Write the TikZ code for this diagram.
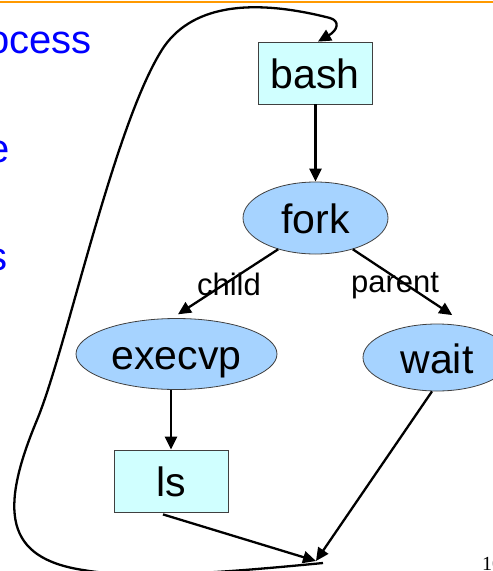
\documentclass[tikz,border=0pt]{standalone}
\usepackage{fontspec}
\setmainfont{Liberation Sans}
\newfontfamily\serifnum{Liberation Serif}
\usetikzlibrary{shapes.geometric,arrows.meta}
\definecolor{ellfill}{RGB}{166,211,255}
\definecolor{boxfill}{RGB}{208,255,255}
\definecolor{topline}{RGB}{255,153,0}
\begin{document}
\begin{tikzpicture}[x=1pt,y=-1pt,
  proc/.style={ellipse, draw=black!75, line width=0.8pt, fill=ellfill, inner sep=0pt,
    text height=31pt, text depth=0pt, font=\fontsize{41}{49}\selectfont},
  prog/.style={rectangle, draw=black!75, line width=0.8pt, fill=boxfill, inner sep=0pt,
    minimum width=114pt, minimum height=62pt, text height=31pt, text depth=0pt,
    font=\fontsize{41}{49}\selectfont},
  arr/.style={line width=2.3pt, -{Triangle[length=13pt,width=12pt]}},
  lbl/.style={font=\fontsize{31}{37}\selectfont, anchor=base, inner sep=0pt},
  side/.style={text=blue, font=\fontsize{40}{48}\selectfont, anchor=base east, inner sep=0pt}]
\useasboundingbox (0,0) rectangle (493,571);
\draw[topline, line width=2.5pt] (0,2) -- (493,2);

% side text fragments
\node[side] (t1) at (92,53) {ocess};
\node[side] (t2) at (10,162) {e};
\node[side] (t3) at (8,270) {s};
\node[font=\serifnum\fontsize{20}{24}\selectfont, anchor=base west, inner sep=0pt] (pg) at (482,570.5) {10};

% nodes
\node[prog] (bash) at (315,73) {bash};
\node[proc, minimum width=145pt, minimum height=72pt] (fork) at (315.5,218) {fork};
\node[proc, minimum width=201pt, minimum height=71pt] (execvp) at (176.5,354) {execvp};
\node[proc, minimum width=148pt, minimum height=67pt] (wait) at (437,357.5) {wait};
\node[prog] (ls) at (171,481) {ls};
\coordinate (join) at (316,561);
\coordinate (loopstart) at (323,563);

% labels
\node[lbl] (child) at (229,295) {child};
\node[lbl] (parent) at (395,292) {parent};

% connectors
\draw[arr] (bash.south -| fork.north) -- (fork.north);
\draw[arr, shorten >=7pt] (fork.220) -- (execvp.97);
\draw[arr, shorten >=22pt] (fork.-40) -- (wait.42);
\draw[arr] (ls.north |- execvp.south) -- (ls.north);
\draw[arr] ([xshift=-8pt,yshift=-2pt]ls.south) -- (join);
\draw[arr] ([xshift=-5pt]wait.south) -- (join);
\draw[arr] (loopstart) .. controls (240,571) and (140,580) .. (83,570)
  .. controls (5,558) and (-1,511) .. (37,420)
  .. controls (66,350) and (112,133) .. (160,53)
  .. controls (185,10) and (240,-5) .. (330,18)
  .. controls (340,21) and (338,30) .. ([xshift=3pt]bash.north);
\end{tikzpicture}
\end{document}
